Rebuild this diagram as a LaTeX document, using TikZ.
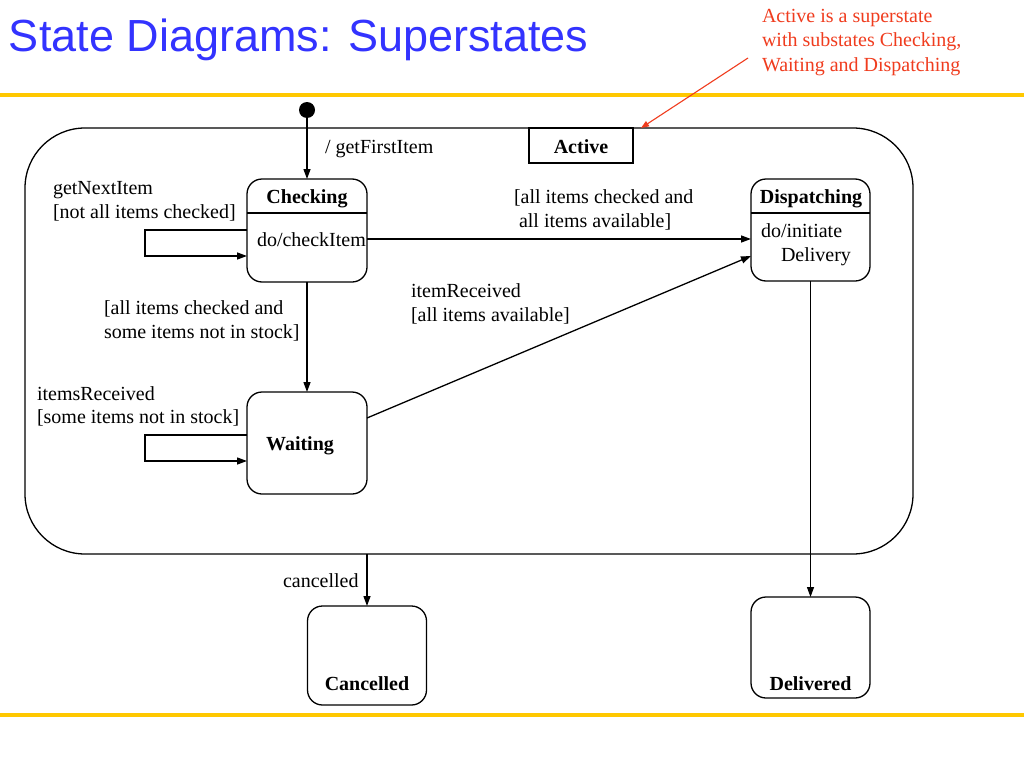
\documentclass[tikz,border=0pt]{standalone}
\usepackage{fontspec}
\setmainfont{Liberation Serif}
\newfontfamily\titlefont{Liberation Sans}
\usetikzlibrary{arrows.meta,calc}
\definecolor{titleblue}{RGB}{51,51,255}
\definecolor{rulegold}{RGB}{255,200,0}
\definecolor{notered}{RGB}{240,60,30}
\tikzset{
  every node/.style={inner sep=0pt, outer sep=0pt, font=\fontsize{20}{24}\selectfont},
  statebox/.style={draw, line width=1.3pt, rounded corners=15pt},
  lbl/.style={anchor=base west},
  bname/.style={anchor=base, font=\fontsize{20}{24}\selectfont\bfseries},
  conn/.style={line width=1.3pt, -{Triangle[length=10pt,width=7pt]}},
}
\begin{document}
\begin{tikzpicture}[x=1pt,y=-1pt]
\useasboundingbox (0,0) rectangle (1024,768);
\fill[white] (0,0) rectangle (1024,768);
% rules
\draw[rulegold, line width=3.5pt] (0,95) -- (1024,95);
\draw[rulegold, line width=3.5pt] (0,715) -- (1024,715);
% title
\node[anchor=base west, text=titleblue, font=\titlefont\fontsize{45}{50}\selectfont] (title) at (9,52) {State Diagrams: Superstates};
% note
\node[lbl, text=notered] (n1) at (762,23) {Active is a superstate};
\node[lbl, text=notered] (n2) at (762,47) {with substates Checking,};
\node[lbl, text=notered] (n3) at (762,71) {Waiting and Dispatching};
\coordinate (nstart) at (748,58);
% superstate
\node[draw, line width=1.3pt, rounded corners=60pt, minimum width=888pt, minimum height=426pt] (sup) at (469,341) {};
\node[draw, line width=1.3pt, minimum width=104pt, minimum height=35pt] (act) at (581,145.5) {};
\node[bname] (actt) at (581,153) {Active};
\draw[notered, line width=1.1pt, -{Triangle[length=8pt,width=6pt]}] (nstart) -- (act.north east -| 641,118);
% initial
\node[circle, fill=black, minimum size=16pt] (init) at (307,110) {};
% states
\node[statebox, minimum width=120pt, minimum height=103pt] (chk) at (307,230.5) {};
\draw[line width=1.3pt] ($(chk.north west)+(0,34)$) -- ($(chk.north east)+(0,34)$);
\node[bname] (chkt) at (307,203) {Checking};
\node[lbl] (chkd) at (257,246) {do/checkItem};

\node[statebox, minimum width=120pt, minimum height=102pt] (wai) at (307,443) {};
\node[bname] (wait) at (300,450) {Waiting};

\node[statebox, minimum width=119pt, minimum height=102pt] (dis) at (810.5,230) {};
\draw[line width=1.3pt] ($(dis.north west)+(0,34)$) -- ($(dis.north east)+(0,34)$);
\node[bname] (dist) at (811,203) {Dispatching};
\node[lbl] (disd1) at (761,237) {do/initiate};
\node[lbl] (disd2) at (781,261) {Delivery};

\node[statebox, minimum width=119pt, minimum height=99pt] (can) at (367,655.5) {};
\node[bname] (cant) at (367,690) {Cancelled};

\node[statebox, minimum width=119pt, minimum height=101pt] (del) at (810.5,647.5) {};
\node[bname] (delt) at (810.5,690) {Delivered};

% connectors
\draw[conn] (init) -- (chk.north);
\node[lbl] (l0) at (325,153) {/ getFirstItem};

\draw[conn] ($(chk.west)+(0,-0.5)$) -- ++(-102,0) -- ++(0,26) -- ($(chk.west)+(0,25.5)$);
\node[lbl] (l1a) at (53,194) {getNextItem};
\node[lbl] (l1b) at (53,218) {[not all items checked]};

\draw[conn] (chk.south) -- (wai.north);
\node[lbl] (l2a) at (104,314) {[all items checked and};
\node[lbl] (l2b) at (104,338) {some items not in stock]};

\draw[conn] ($(wai.west)+(0,-8)$) -- ++(-102,0) -- ++(0,26) -- ($(wai.west)+(0,18)$);
\node[lbl] (l3a) at (37,400) {itemsReceived};
\node[lbl] (l3b) at (37,423) {[some items not in stock]};

\draw[conn] ($(chk.east)+(0,8.5)$) -- ($(dis.west)+(0,9)$);
\node[lbl] (l4a) at (514,203) {[all items checked and};
\node[lbl] (l4b) at (519,227) {all items available]};

\draw[conn] ($(wai.east)+(0,-25)$) -- ($(dis.west)+(0,26)$);
\node[lbl] (l5a) at (411,297) {itemReceived};
\node[lbl] (l5b) at (411,321) {[all items available]};

\draw[conn] (dis.south) -- (del.north);

\draw[conn] (sup.south -| can.north) -- (can.north);
\node[lbl] (l6) at (283,587) {cancelled};
\end{tikzpicture}
\end{document}
